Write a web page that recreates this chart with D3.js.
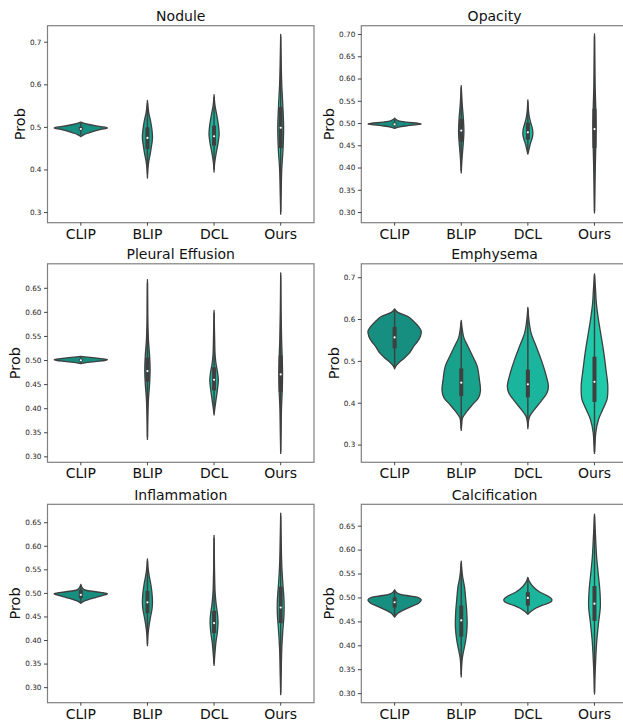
<!DOCTYPE html>
<html>
<head>
<meta charset="utf-8">
<script src="https://cdn.jsdelivr.net/npm/d3@7"></script>
<style>
  body { margin: 0; background: #fff; }
  svg { display: block; }
  text { font-family: "DejaVu Sans", sans-serif; }
</style>
</head>
<body>
<svg id="chart" width="623" height="721"></svg>
<script>
const categories = ["CLIP", "BLIP", "DCL", "Ours"];
const palette = ["#178f80", "#18a18b", "#1ab59c", "#1ecaa9"];

// each violin: [value, relative half width] ; box: [whiskerLo, q1, median, q3, whiskerHi]
const noduleShapes = [
  [[0.477,0],[0.4787,0.03],[0.482,0.12],[0.486,0.3],[0.490,0.5],[0.494,0.75],[0.4975,1.0],[0.501,0.7],[0.505,0.35],[0.509,0.1],[0.5115,0]],
  [[0.380,0],[0.40,0.015],[0.419,0.05],[0.435,0.1],[0.454,0.15],[0.474,0.19],[0.493,0.17],[0.513,0.12],[0.533,0.05],[0.548,0.02],[0.562,0]],
  [[0.394,0],[0.41,0.015],[0.423,0.04],[0.442,0.09],[0.462,0.15],[0.482,0.19],[0.501,0.17],[0.525,0.11],[0.548,0.04],[0.562,0.015],[0.5756,0]],
  [[0.295,0],[0.35,0.02],[0.40,0.04],[0.45,0.09],[0.50,0.11],[0.55,0.08],[0.60,0.04],[0.65,0.02],[0.717,0]]
];
const noduleBoxes = [
  [0.481, 0.492, 0.495, 0.500, 0.509],
  [0.39, 0.448, 0.474, 0.499, 0.555],
  [0.40, 0.456, 0.478, 0.503, 0.57],
  [0.30, 0.450, 0.498, 0.547, 0.712]
];
const noduleTicks = [0.3, 0.4, 0.5, 0.6, 0.7];
const noduleDomain = [0.275, 0.7376];

const opacityShapes = [
  [[0.488,0],[0.491,0.15],[0.494,0.5],[0.4965,0.85],[0.498,1.0],[0.4995,0.85],[0.502,0.45],[0.505,0.15],[0.509,0.03],[0.511,0]],
  [[0.388,0],[0.42,0.03],[0.45,0.07],[0.48,0.1],[0.51,0.08],[0.54,0.04],[0.56,0.02],[0.584,0]],
  [[0.430,0],[0.44,0.04],[0.455,0.1],[0.468,0.17],[0.478,0.19],[0.49,0.16],[0.50,0.11],[0.515,0.05],[0.53,0.02],[0.552,0]],
  [[0.298,0],[0.35,0.015],[0.40,0.03],[0.45,0.05],[0.49,0.06],[0.53,0.05],[0.58,0.025],[0.64,0.012],[0.70,0]]
];
const opacityBoxes = [
  [0.490, 0.495, 0.497, 0.500, 0.508],
  [0.392, 0.458, 0.483, 0.509, 0.58],
  [0.434, 0.4625, 0.479, 0.501, 0.548],
  [0.302, 0.444, 0.4865, 0.532, 0.695]
];
const opacityTicks = [0.30, 0.35, 0.40, 0.45, 0.50, 0.55, 0.60, 0.65, 0.70];
const opacityDomain = [0.276, 0.7187];

const pleuralShapes = [
  [[0.4925,0],[0.495,0.25],[0.497,0.6],[0.499,0.9],[0.5005,1.0],[0.502,0.9],[0.504,0.6],[0.506,0.25],[0.5075,0]],
  [[0.335,0],[0.38,0.015],[0.42,0.04],[0.45,0.08],[0.48,0.1],[0.51,0.08],[0.54,0.04],[0.58,0.015],[0.62,0.008],[0.667,0]],
  [[0.386,0],[0.40,0.03],[0.42,0.08],[0.44,0.13],[0.458,0.16],[0.475,0.13],[0.49,0.08],[0.51,0.04],[0.55,0.02],[0.603,0]],
  [[0.306,0],[0.35,0.015],[0.40,0.03],[0.44,0.06],[0.47,0.07],[0.50,0.06],[0.54,0.035],[0.60,0.015],[0.681,0]]
];
const pleuralBoxes = [
  [0.494, 0.4975, 0.4995, 0.5025, 0.506],
  [0.34, 0.455, 0.477, 0.505, 0.66],
  [0.39, 0.437, 0.459, 0.485, 0.598],
  [0.31, 0.4334, 0.470, 0.5095, 0.676]
];
const pleuralTicks = [0.30, 0.35, 0.40, 0.45, 0.50, 0.55, 0.60, 0.65];
const pleuralDomain = [0.2876, 0.6998];

const emphysemaShapes = [
  [[0.481,0],[0.487,0.04],[0.495,0.15],[0.507,0.37],[0.519,0.56],[0.535,0.72],[0.547,0.87],[0.559,0.97],[0.571,1.0],[0.582,0.9],[0.594,0.72],[0.606,0.5],[0.616,0.12],[0.624,0]],
  [[0.334,0],[0.35,0.02],[0.364,0.05],[0.380,0.22],[0.396,0.43],[0.412,0.65],[0.428,0.72],[0.456,0.68],[0.487,0.6],[0.511,0.43],[0.535,0.25],[0.555,0.1],[0.575,0.04],[0.597,0]],
  [[0.338,0],[0.355,0.02],[0.368,0.07],[0.384,0.25],[0.404,0.5],[0.424,0.72],[0.440,0.77],[0.471,0.66],[0.503,0.5],[0.535,0.31],[0.567,0.12],[0.598,0.04],[0.628,0]],
  [[0.279,0],[0.30,0.02],[0.329,0.05],[0.360,0.15],[0.384,0.31],[0.408,0.47],[0.440,0.5],[0.479,0.43],[0.519,0.35],[0.559,0.25],[0.598,0.15],[0.638,0.07],[0.67,0.04],[0.708,0]]
];
const emphysemaBoxes = [
  [0.485, 0.530, 0.556, 0.581, 0.62],
  [0.338, 0.416, 0.448, 0.482, 0.593],
  [0.342, 0.413, 0.444, 0.479, 0.624],
  [0.283, 0.402, 0.450, 0.510, 0.704]
];
const emphysemaTicks = [0.3, 0.4, 0.5, 0.6, 0.7];
const emphysemaDomain = [0.2577, 0.732];

const inflammationShapes = [
  [[0.478,0],[0.482,0.1],[0.486,0.3],[0.49,0.55],[0.494,0.8],[0.498,1.0],[0.501,0.75],[0.504,0.35],[0.507,0.12],[0.511,0.05],[0.515,0.02],[0.518,0]],
  [[0.388,0],[0.41,0.02],[0.43,0.06],[0.45,0.12],[0.465,0.17],[0.48,0.19],[0.50,0.17],[0.52,0.12],[0.535,0.07],[0.55,0.03],[0.572,0]],
  [[0.346,0],[0.37,0.03],[0.395,0.07],[0.415,0.12],[0.436,0.15],[0.455,0.13],[0.475,0.08],[0.50,0.04],[0.54,0.02],[0.58,0.01],[0.622,0]],
  [[0.284,0],[0.33,0.02],[0.38,0.04],[0.42,0.08],[0.45,0.12],[0.47,0.13],[0.49,0.12],[0.52,0.08],[0.56,0.04],[0.61,0.02],[0.669,0]]
];
const inflammationBoxes = [
  [0.481, 0.4888, 0.496, 0.5064, 0.516],
  [0.392, 0.457, 0.480, 0.5043, 0.568],
  [0.35, 0.4145, 0.436, 0.462, 0.617],
  [0.288, 0.4357, 0.469, 0.5134, 0.664]
];
const inflammationTicks = [0.30, 0.35, 0.40, 0.45, 0.50, 0.55, 0.60, 0.65];
const inflammationDomain = [0.267, 0.688];

const calcificationShapes = [
  [[0.459,0],[0.467,0.12],[0.474,0.35],[0.481,0.62],[0.488,0.9],[0.495,1.0],[0.500,0.87],[0.503,0.56],[0.507,0.19],[0.511,0.06],[0.516,0]],
  [[0.334,0],[0.355,0.015],[0.373,0.04],[0.391,0.1],[0.411,0.17],[0.439,0.22],[0.467,0.21],[0.495,0.17],[0.523,0.12],[0.544,0.05],[0.56,0.02],[0.576,0]],
  [[0.465,0],[0.471,0.12],[0.478,0.31],[0.484,0.56],[0.491,0.87],[0.496,0.9],[0.503,0.75],[0.512,0.43],[0.523,0.19],[0.533,0.06],[0.542,0]],
  [[0.298,0],[0.33,0.015],[0.363,0.04],[0.405,0.08],[0.446,0.15],[0.481,0.22],[0.516,0.2],[0.544,0.15],[0.585,0.08],[0.627,0.04],[0.65,0.02],[0.674,0]]
];
const calcificationBoxes = [
  [0.462, 0.479, 0.490, 0.500, 0.513],
  [0.338, 0.418, 0.452, 0.483, 0.572],
  [0.468, 0.483, 0.499, 0.511, 0.539],
  [0.302, 0.451, 0.487, 0.524, 0.67]
];
const calcificationTicks = [0.30, 0.35, 0.40, 0.45, 0.50, 0.55, 0.60, 0.65];
const calcificationDomain = [0.280, 0.6947];

const panels = [
  {title: "Nodule", shapes: noduleShapes, boxes: noduleBoxes, ticks: noduleTicks, domain: noduleDomain, fmt: ".1f"},
  {title: "Opacity", shapes: opacityShapes, boxes: opacityBoxes, ticks: opacityTicks, domain: opacityDomain, fmt: ".2f"},
  {title: "Pleural Effusion", shapes: pleuralShapes, boxes: pleuralBoxes, ticks: pleuralTicks, domain: pleuralDomain, fmt: ".2f"},
  {title: "Emphysema", shapes: emphysemaShapes, boxes: emphysemaBoxes, ticks: emphysemaTicks, domain: emphysemaDomain, fmt: ".1f"},
  {title: "Inflammation", shapes: inflammationShapes, boxes: inflammationBoxes, ticks: inflammationTicks, domain: inflammationDomain, fmt: ".2f"},
  {title: "Calcification", shapes: calcificationShapes, boxes: calcificationBoxes, ticks: calcificationTicks, domain: calcificationDomain, fmt: ".2f"}
];

// axes boxes
const cols = [[47.5, 314], [361.3, 627.8]];
const rows = [[25.7, 222.7], [263.8, 462.3], [504.3, 702.7]];
const lineColor = "#3f3f3f";

const svg = d3.select("#chart");

panels.forEach((p, i) => {
  const [x0, x1] = cols[i % 2];
  const [y0, y1] = rows[Math.floor(i / 2)];

  const x = d3.scaleBand().domain(categories).range([x0, x1]);
  const y = d3.scaleLinear().domain(p.domain).range([y1, y0]);
  const w = d3.scaleLinear().domain([0, 1]).range([0, x.bandwidth() * 0.4]);

  const g = svg.append("g");

  // violins
  categories.forEach((c, j) => {
    const cx = x(c) + x.bandwidth() / 2;
    const area = d3.area()
      .curve(d3.curveCatmullRom.alpha(0.5))
      .y(d => y(d[0]))
      .x0(d => cx - w(d[1]))
      .x1(d => cx + w(d[1]));

    g.append("path")
      .attr("d", area(p.shapes[j]))
      .attr("fill", palette[j])
      .attr("stroke", lineColor)
      .attr("stroke-width", 1.3)
      .attr("stroke-linejoin", "round");

    const [lo, q1, med, q3, hi] = p.boxes[j];
    g.append("line")
      .attr("x1", cx).attr("x2", cx)
      .attr("y1", y(lo)).attr("y2", y(hi))
      .attr("stroke", lineColor)
      .attr("stroke-width", 1.4);
    g.append("rect")
      .attr("x", cx - 2)
      .attr("width", 4)
      .attr("y", y(q3))
      .attr("height", y(q1) - y(q3))
      .attr("fill", lineColor);
    g.append("circle")
      .attr("cx", cx)
      .attr("cy", y(med))
      .attr("r", 1.1)
      .attr("fill", "#fff");
  });

  // frame
  g.append("rect")
    .attr("x", x0).attr("y", y0)
    .attr("width", x1 - x0).attr("height", y1 - y0)
    .attr("fill", "none")
    .attr("stroke", "#808080")
    .attr("stroke-width", 1.2);

  // y axis
  const yAxis = g.append("g")
    .attr("transform", `translate(${x0},0)`)
    .call(d3.axisLeft(y).tickValues(p.ticks).tickFormat(d3.format(p.fmt))
      .tickSize(3.5).tickPadding(2.5).tickSizeOuter(0));
  yAxis.select(".domain").remove();
  yAxis.selectAll(".tick line").attr("stroke", "#333").attr("stroke-width", 0.9);
  yAxis.selectAll(".tick text")
    .attr("font-size", 7.3)
    .attr("font-family", "DejaVu Sans")
    .attr("fill", "#262626");

  let maxW = 0;
  yAxis.selectAll(".tick text").each(function() {
    maxW = Math.max(maxW, this.getComputedTextLength());
  });

  // x axis
  const xAxis = g.append("g")
    .attr("transform", `translate(0,${y1})`)
    .call(d3.axisBottom(x).tickSize(3).tickPadding(3.2).tickSizeOuter(0));
  xAxis.select(".domain").remove();
  xAxis.selectAll(".tick line").attr("stroke", "#333").attr("stroke-width", 0.9);
  xAxis.selectAll(".tick text")
    .attr("font-size", 14)
    .attr("font-family", "DejaVu Sans")
    .attr("fill", "#111");

  // title
  g.append("text")
    .attr("x", (x0 + x1) / 2)
    .attr("y", y0 - 4.5)
    .attr("text-anchor", "middle")
    .attr("font-size", 14)
    .attr("fill", "#111")
    .text(p.title);

  // y label
  const ly = (y0 + y1) / 2;
  const lx = x0 - 3.5 - 2.5 - maxW - 5;
  g.append("text")
    .attr("transform", `translate(${lx},${ly}) rotate(-90)`)
    .attr("text-anchor", "middle")
    .attr("font-size", 14.5)
    .attr("fill", "#111")
    .text("Prob");
});
</script>
</body>
</html>
